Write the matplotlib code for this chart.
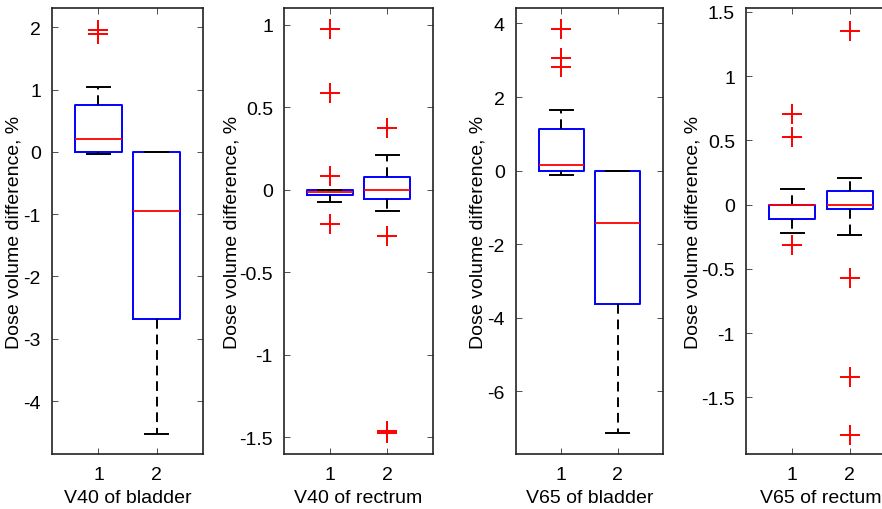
import matplotlib
matplotlib.use("Agg")
import matplotlib.pyplot as plt

plt.rcParams["font.family"] = ["Liberation Sans", "DejaVu Sans"]
plt.rcParams["axes.unicode_minus"] = False

# per panel: two groups (1, 2)
panel_labels = ["V40 of bladder", "V40 of rectrum", "V65 of bladder", "V65 of rectum"]

medians = [[0.20, -0.95], [-0.016, 0.0], [0.16, -1.42], [-0.005, 0.0]]
q1s = [[0.0, -2.68], [-0.035, -0.056], [0.0, -3.62], [-0.11, -0.037]]
q3s = [[0.75, 0.0], [0.0, 0.075], [1.12, 0.0], [0.0, 0.11]]
whis_lo = [[-0.035, -4.53], [-0.077, -0.131], [-0.12, -7.14], [-0.218, -0.234]]
whis_hi = [[1.04, 0.0], [0.0, 0.211], [1.65, 0.0], [0.119, 0.21]]
outliers = [
    [[1.95, 1.90], []],
    [[0.97, 0.584, 0.08, -0.205], [0.372, -0.278, -1.459, -1.473]],
    [[3.86, 3.05, 2.83], []],
    [[0.709, 0.527, -0.317], [1.35, -0.568, -1.34, -1.79]],
]

y_limits = [(-4.85, 2.31), (-1.6, 1.1), (-7.7, 4.42), (-1.94, 1.53)]
y_ticks = [
    [-4, -3, -2, -1, 0, 1, 2],
    [-1.5, -1, -0.5, 0, 0.5, 1],
    [-6, -4, -2, 0, 2, 4],
    [-1.5, -1, -0.5, 0, 0.5, 1, 1.5],
]
y_ticklabels = [
    ["-4", "-3", "-2", "-1", "0", "1", "2"],
    ["-1.5", "-1", "-0.5", "0", "0.5", "1"],
    ["-6", "-4", "-2", "0", "2", "4"],
    ["-1.5", "-1", "-0.5", "0", "0.5", "1", "1.5"],
]

lefts = [52, 284, 516, 746]
widths = [151, 149, 147, 150]
ylabel_x = [-0.194, -0.295, -0.199, -0.295]
W, H = 882, 510

fig = plt.figure(figsize=(W / 100, H / 100), dpi=100)

for i in range(4):
    ax = fig.add_axes([lefts[i] / W, 55 / H, widths[i] / W, 446 / H])
    stats = []
    for j in range(2):
        stats.append(dict(med=medians[i][j], q1=q1s[i][j], q3=q3s[i][j],
                          whislo=whis_lo[i][j], whishi=whis_hi[i][j],
                          fliers=outliers[i][j]))
    ax.bxp(stats, positions=[1, 2], widths=0.8, showfliers=True,
           boxprops=dict(color="#0000ff", linewidth=1.4),
           medianprops=dict(color="#ff0000", linewidth=1.3),
           whiskerprops=dict(color="black", linewidth=1.4, linestyle=(0, (5, 3))),
           capprops=dict(color="black", linewidth=1.4),
           capwidths=0.4,
           flierprops=dict(marker="+", markeredgecolor="#ff0000",
                           markersize=14, markeredgewidth=1.4, linestyle="none"))
    ax.set_xlim(0.2, 2.8)
    ax.set_ylim(*y_limits[i])
    ax.set_xticks([1, 2])
    ax.set_xticklabels(["1", "2"])
    ax.set_yticks(y_ticks[i])
    ax.set_yticklabels(y_ticklabels[i])
    ax.tick_params(direction="in", top=True, right=True, length=4,
                   width=0.6, color="#333333", labelsize=14)
    ax.tick_params(axis="x", pad=8.5)
    ax.tick_params(axis="y", pad=8)
    for s in ax.spines.values():
        s.set_linewidth(1.2)
        s.set_color("#222222")
    ax.set_xlabel(panel_labels[i], fontsize=14, labelpad=4.5)
    ax.set_ylabel("Dose volume difference, %", fontsize=14)
    ax.yaxis.set_label_coords(ylabel_x[i], 0.5)

fig.savefig("out.png", dpi=100)
